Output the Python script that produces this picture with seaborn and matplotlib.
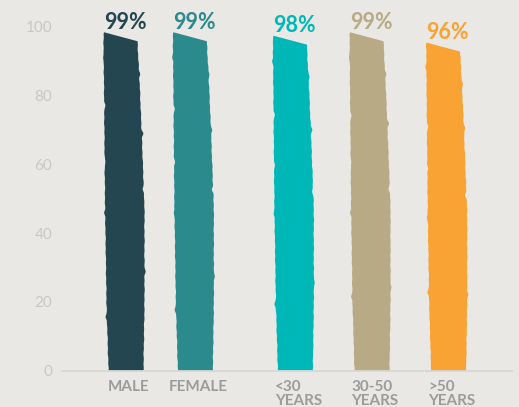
import numpy as np
import pandas as pd
import matplotlib
matplotlib.use("Agg")
import matplotlib.pyplot as plt
import matplotlib.transforms as mtransforms
from matplotlib.patches import Polygon
import seaborn as sns

# Share of respondents by group
groups = ["MALE", "FEMALE", "<30\nYEARS", "30-50\nYEARS", ">50\nYEARS"]
shares = [99, 99, 98, 99, 96]
value_labels = ["99%", "99%", "98%", "99%", "96%"]
colors = ["#234651", "#2b8a8c", "#00b7b7", "#b8aa84", "#f8a333"]
yticks = [0, 20, 40, 60, 80, 100]

# horizontal placement: gender pair, then age groups after a gap
slot = [0, 0.95, 2.32, 3.37, 4.42]

BG = "#e9e8e4"
sns.set_theme(style="white")
plt.rcParams["font.family"] = ["Lato", "DejaVu Sans"]

fig = plt.figure(figsize=(5.19, 4.07), dpi=100)
fig.patch.set_facecolor(BG)
ax_rect = [0.1195, 0.0885, 0.867, 0.8475]
ax = fig.add_axes(ax_rect)
ax.set_facecolor(BG)

df = pd.DataFrame({"slot": slot, "share": shares, "group": groups})
sns.barplot(data=df, x="slot", y="share", hue="group", hue_order=groups,
            palette=colors, native_scale=True, dodge=False, width=0.59,
            legend=False, saturation=1, ax=ax)

xmin, xmax = -0.849, 5.315
ax.set_xlim(xmin, xmax)
ax.set_ylim(0, 100)

# conversion from pixels to data units
ax_w_px = ax_rect[2] * 519
ax_h_px = ax_rect[3] * 407
px_x = (xmax - xmin) / ax_w_px
px_y = 100 / ax_h_px


def bumps(t, centers, amps, width=0.008):
    out = np.zeros_like(t)
    for c, a in zip(centers, amps):
        out += a * np.exp(-((t - c) / width) ** 2)
    return out


def brush_outline(x0, w, h, k):
    """Outline of a brush-stroke bar with a slanted top and ragged sides."""
    t = np.linspace(0, 1, 240)
    fine = 0.18 * np.sin(t * 211 + k * 2.1) + 0.12 * np.sin(t * 83 + k * 0.7)
    left_in = np.interp(t, [0, 0.2, 0.5, 1.0], [5, 3, 1.5, 0]) + fine
    left_in += bumps(t, [0.16 + 0.02 * k, 0.47, 0.62, 0.79 - 0.01 * k, 0.93],
                     [-1.6, -1.0, 0.8, 1.2, -0.9])
    right_in = np.interp(t, [0, 0.2, 0.5, 0.7, 0.85, 1.0], [1, 0, 0, 2.5, 4.5, 7]) - fine
    right_in += bumps(t, [0.3 - 0.015 * k, 0.55, 0.72 + 0.01 * k, 0.9],
                      [-1.2, 1.3, -1.6, -1.0])
    top_left = h - 1.4   # brush top starts just under the value
    top_right = h - 3.4  # and slopes down to the right

    lx = x0 + left_in * px_x
    ly = t * top_left
    rx = x0 + w - right_in * px_x
    ry = t * top_right
    tip = [(x0 + 0.5 * px_x, top_left + 0.6)]
    verts = list(zip(lx, ly)) + tip + list(zip(rx[::-1], ry[::-1]))
    return verts


bars = sorted(ax.patches, key=lambda p: p.get_x())
for k, p in enumerate(bars):
    x0, w, h = p.get_x(), p.get_width(), p.get_height()
    poly = Polygon(brush_outline(x0, w, h, k), closed=True,
                   facecolor=p.get_facecolor(), edgecolor="none",
                   antialiased=True, zorder=2)
    ax.add_patch(poly)
    p.remove()
    ax.text(x0 + w / 2 + 1 * px_x, h + 0.2, value_labels[k], ha="center",
            va="baseline", color=colors[k], fontsize=15.5, fontweight="bold",
            clip_on=False, zorder=3)

ax.set_yticks(yticks)
ax.set_yticklabels([str(v) for v in yticks])
ax.tick_params(axis="y", length=0, pad=7, labelsize=11, labelcolor="#c9c8c5")
ax.set_xticks(slot)
ax.set_xticklabels(groups)
ax.tick_params(axis="x", length=0, pad=6.5)
shift = mtransforms.ScaledTranslation(5 / 100, 0, fig.dpi_scale_trans)
for lab in ax.get_xticklabels():
    lab.set_fontweight("bold")
    lab.set_fontsize(11)
    lab.set_color("#9b9b9b")
    lab.set_multialignment("left")
    lab.set_linespacing(1.0)
    lab.set_transform(lab.get_transform() + shift)

ax.set_xlabel("")
ax.set_ylabel("")
for side in ["top", "right", "left"]:
    ax.spines[side].set_visible(False)
ax.spines["bottom"].set_color("#d8d7d3")
ax.spines["bottom"].set_linewidth(1.3)
ax.grid(False)

fig.savefig("out.png", dpi=100, facecolor=BG)
